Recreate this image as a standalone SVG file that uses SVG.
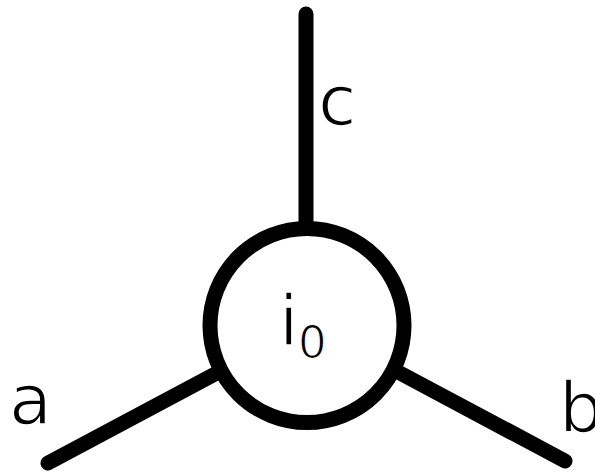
<svg xmlns="http://www.w3.org/2000/svg" width="595" height="476" viewBox="0 0 595 476">
<style>
.e{stroke:#000;stroke-width:15;stroke-linecap:round;fill:none}
.t{font-family:"DejaVu Sans",sans-serif;font-size:70px;fill:#000;stroke:#fff;stroke-width:1.6px}
</style>
<rect width="595" height="476" fill="#fff"/>
<g id="connectors">
<line class="e" x1="306" y1="14" x2="306" y2="225"/>
<line class="e" x1="48" y1="463" x2="215" y2="374"/>
<line class="e" x1="565" y1="461" x2="398" y2="372"/>
</g>
<g id="node-i0">
<circle class="e" cx="307" cy="325.5" r="97" style="fill:#fff"/>
<text class="t" x="279" y="345">i</text>
<text class="t" x="298" y="358" style="font-size:45px;stroke-width:1.2px">0</text>
</g>
<g id="label-a"><text class="t" x="9" y="424">a</text></g>
<g id="label-b"><text class="t" x="559" y="432">b</text></g>
<g id="label-c"><text class="t" x="318" y="125">c</text></g>
</svg>
